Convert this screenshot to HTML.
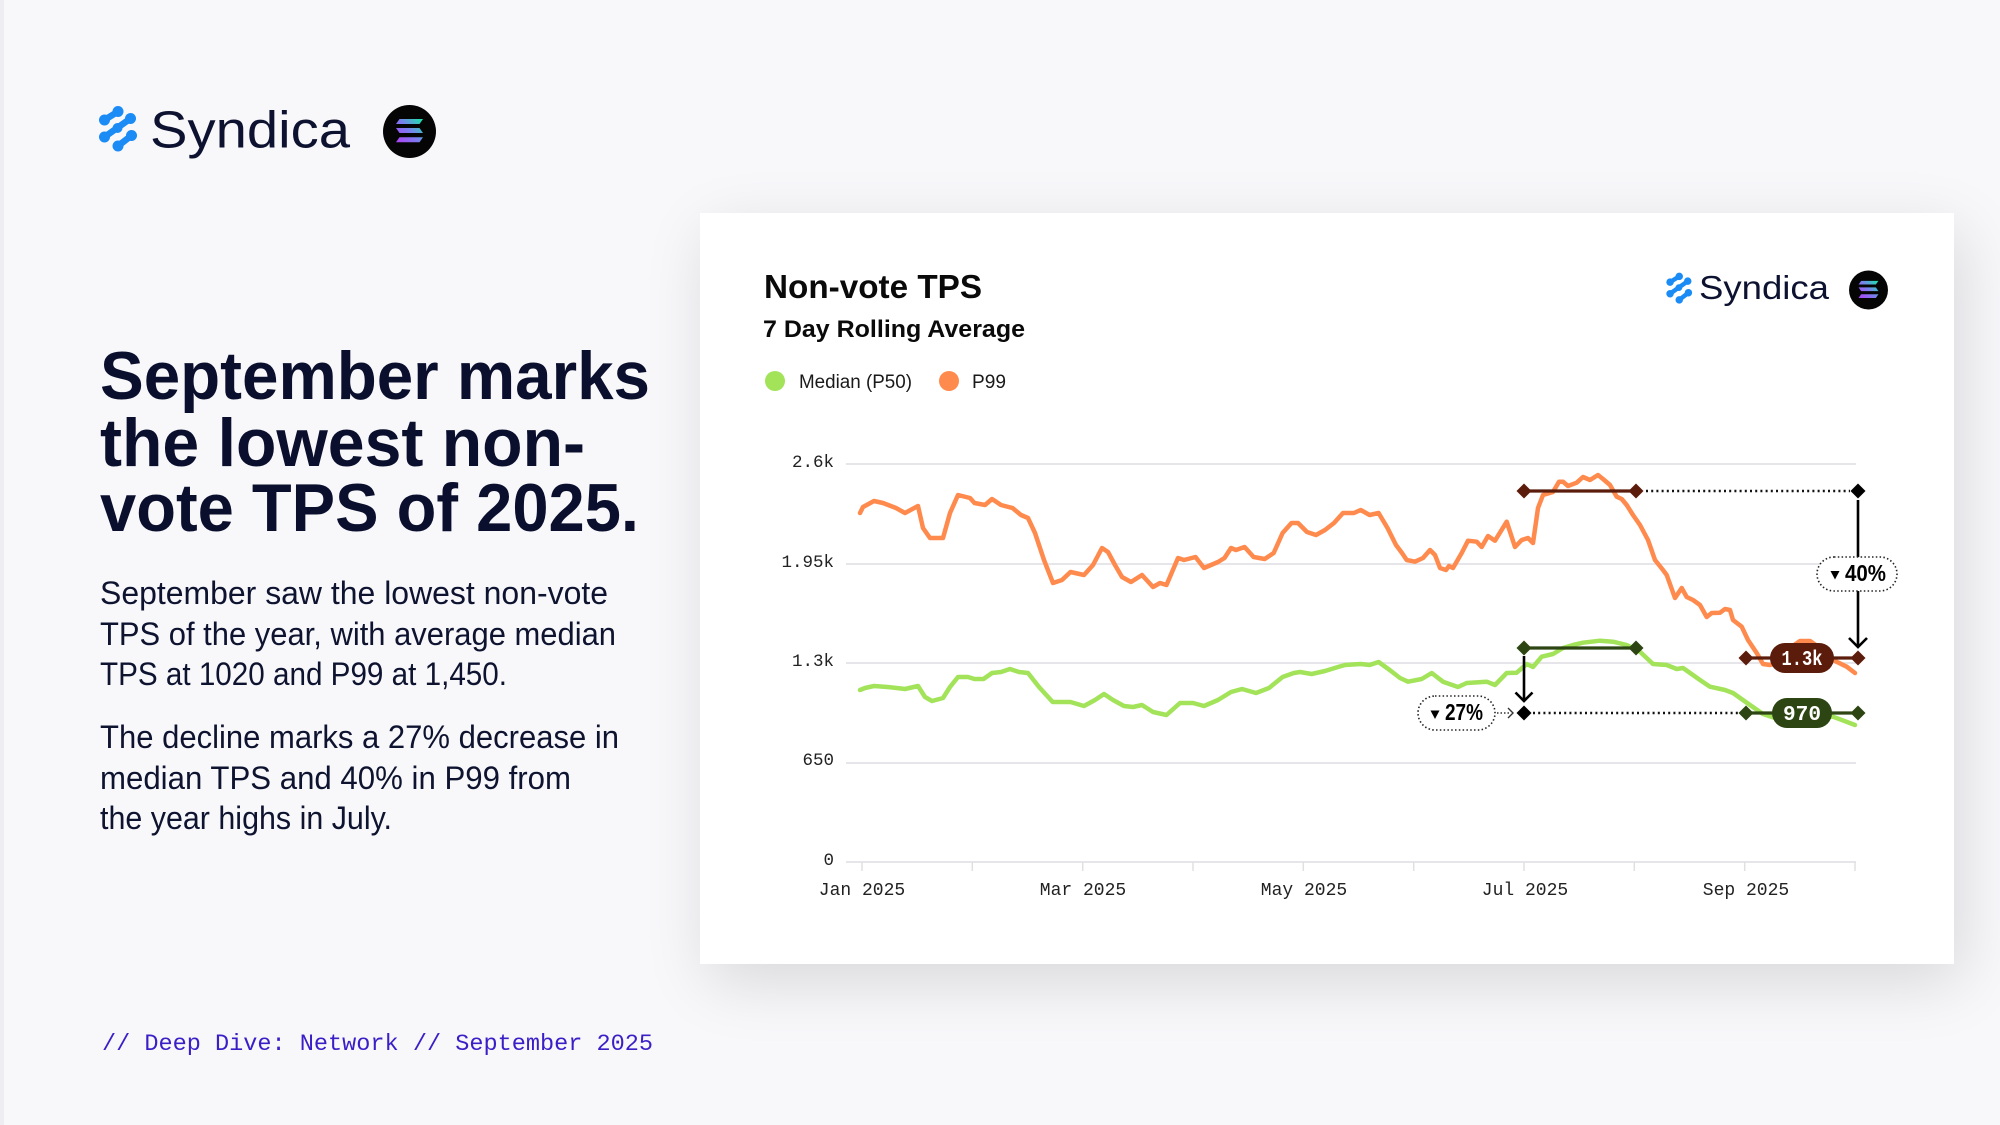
<!DOCTYPE html>
<html>
<head>
<meta charset="utf-8">
<style>
html,body{margin:0;padding:0;width:2000px;height:1125px;overflow:hidden;background:#f8f8fb}
.strip{position:absolute;left:0;top:0;width:4px;height:1125px;background:#eeeef2}
.card{position:absolute;left:700px;top:213px;width:1254px;height:751px;background:#fff;box-shadow:8px 18px 60px rgba(0,0,0,0.13)}
svg{position:absolute;left:0;top:0}
</style>
</head>
<body>
<div class="strip"></div>
<div class="card"></div>
<svg width="2000" height="1125" viewBox="0 0 2000 1125" xmlns="http://www.w3.org/2000/svg">
<defs>
  <linearGradient id="sol" gradientUnits="userSpaceOnUse" x1="-13" y1="12" x2="13" y2="-12">
    <stop offset="0" stop-color="#b23ff5"/>
    <stop offset="0.5" stop-color="#7c7cf0"/>
    <stop offset="1" stop-color="#19e6a8"/>
  </linearGradient>
  <g id="synicon" fill="#1b8bf5">
    <g stroke="#1b8bf5" stroke-width="6.5" stroke-linecap="round" fill="none">
      <line x1="104.5" y1="120" x2="118" y2="111.5"/>
      <line x1="130.5" y1="118.5" x2="104.5" y2="137"/>
      <line x1="131.5" y1="135.5" x2="118" y2="146"/>
    </g>
    <circle cx="104.5" cy="120" r="5.5"/>
    <circle cx="118" cy="111.5" r="5.5"/>
    <circle cx="130.5" cy="118.5" r="5.5"/>
    <circle cx="117.5" cy="128" r="5"/>
    <circle cx="104.5" cy="137" r="5.5"/>
    <circle cx="131.5" cy="135.5" r="5.5"/>
    <circle cx="118" cy="146" r="5.5"/>
  </g>
  <g id="solana">
    <circle cx="0" cy="0" r="26.5" fill="#050505"/>
    <polygon points="-10,-12.5 13.5,-12.5 10,-7.5 -13.5,-7.5" fill="url(#sol)"/>
    <polygon points="-13.5,-3.5 10,-3.5 13.5,1.5 -10,1.5" fill="url(#sol)"/>
    <polygon points="-10,5.8 13.5,5.8 10,10.8 -13.5,10.8" fill="url(#sol)"/>
  </g>
</defs>

<!-- Top-left logo -->
<use href="#synicon"/>
<text x="150" y="147.5" font-family="'Liberation Sans', sans-serif" font-size="52" fill="#0d1230" textLength="200" lengthAdjust="spacingAndGlyphs">Syndica</text>
<use href="#solana" transform="translate(409.5,131.5)"/>

<!-- Headline -->
<g font-family="'Liberation Sans', sans-serif" font-weight="bold" font-size="68" fill="#0b0f2e">
  <text x="100" y="399" textLength="550" lengthAdjust="spacingAndGlyphs">September marks</text>
  <text x="100" y="466" textLength="485" lengthAdjust="spacingAndGlyphs">the lowest non-</text>
  <text x="100" y="531" textLength="539" lengthAdjust="spacingAndGlyphs">vote TPS of 2025.</text>
</g>

<!-- Body -->
<g font-family="'Liberation Sans', sans-serif" font-size="32" fill="#0e1330">
  <text x="100" y="604" textLength="508" lengthAdjust="spacingAndGlyphs">September saw the lowest non-vote</text>
  <text x="100" y="645" textLength="516" lengthAdjust="spacingAndGlyphs">TPS of the year, with average median</text>
  <text x="100" y="685" textLength="407" lengthAdjust="spacingAndGlyphs">TPS at 1020 and P99 at 1,450.</text>
  <text x="100" y="748" textLength="519" lengthAdjust="spacingAndGlyphs">The decline marks a 27% decrease in</text>
  <text x="100" y="789" textLength="471" lengthAdjust="spacingAndGlyphs">median TPS and 40% in P99 from</text>
  <text x="100" y="829" textLength="292" lengthAdjust="spacingAndGlyphs">the year highs in July.</text>
</g>

<!-- Footer -->
<text x="102" y="1050" font-family="'Liberation Mono', monospace" font-size="23.5" fill="#3a1fc7" textLength="551" lengthAdjust="spacingAndGlyphs">// Deep Dive: Network // September 2025</text>

<!-- Chart header -->
<text x="764" y="298" font-family="'Liberation Sans', sans-serif" font-weight="bold" font-size="33" fill="#0a0a0a" textLength="218" lengthAdjust="spacingAndGlyphs">Non-vote TPS</text>
<text x="763" y="337" font-family="'Liberation Sans', sans-serif" font-weight="bold" font-size="24.5" fill="#0a0a0a" textLength="262" lengthAdjust="spacingAndGlyphs">7 Day Rolling Average</text>

<!-- Legend -->
<circle cx="775" cy="381" r="10" fill="#a3e35a"/>
<text x="799" y="388" font-family="'Liberation Sans', sans-serif" font-size="19" fill="#1a1a1a" textLength="113" lengthAdjust="spacingAndGlyphs">Median (P50)</text>
<circle cx="949" cy="381" r="10" fill="#ff8a4d"/>
<text x="972" y="388" font-family="'Liberation Sans', sans-serif" font-size="19" fill="#1a1a1a" textLength="34" lengthAdjust="spacingAndGlyphs">P99</text>

<!-- Card logo -->
<g transform="translate(1667,274) scale(0.68) translate(-100,-108)"><use href="#synicon"/></g>
<text x="1699" y="299" font-family="'Liberation Sans', sans-serif" font-size="33" fill="#0d1230" textLength="130" lengthAdjust="spacingAndGlyphs">Syndica</text>
<use href="#solana" transform="translate(1868.5,290) scale(0.735)"/>

<!-- Grid -->
<g stroke="#e6e6ea" stroke-width="2">
  <line x1="846" y1="464" x2="1856" y2="464"/>
  <line x1="846" y1="564" x2="1856" y2="564"/>
  <line x1="846" y1="663" x2="1856" y2="663"/>
  <line x1="846" y1="763" x2="1856" y2="763"/>
  <line x1="846" y1="862" x2="1856" y2="862"/>
</g>
<g stroke="#e0e0e4" stroke-width="1.5">
  <line x1="862" y1="862" x2="862" y2="871"/>
  <line x1="972.3" y1="862" x2="972.3" y2="871"/>
  <line x1="1082.7" y1="862" x2="1082.7" y2="871"/>
  <line x1="1193" y1="862" x2="1193" y2="871"/>
  <line x1="1303.3" y1="862" x2="1303.3" y2="871"/>
  <line x1="1413.7" y1="862" x2="1413.7" y2="871"/>
  <line x1="1524" y1="862" x2="1524" y2="871"/>
  <line x1="1634.3" y1="862" x2="1634.3" y2="871"/>
  <line x1="1744.7" y1="862" x2="1744.7" y2="871"/>
  <line x1="1855" y1="862" x2="1855" y2="871"/>
</g>

<!-- Y labels -->
<g font-family="'Liberation Mono', monospace" font-size="17.5" fill="#222" text-anchor="end">
  <text x="834" y="467">2.6k</text>
  <text x="834" y="567">1.95k</text>
  <text x="834" y="666">1.3k</text>
  <text x="834" y="765">650</text>
  <text x="834" y="865">0</text>
</g>
<!-- X labels -->
<g font-family="'Liberation Mono', monospace" font-size="18" fill="#222" text-anchor="middle">
  <text x="862" y="895">Jan 2025</text>
  <text x="1083" y="895">Mar 2025</text>
  <text x="1304" y="895">May 2025</text>
  <text x="1525" y="895">Jul 2025</text>
  <text x="1746" y="895">Sep 2025</text>
</g>

<!-- Series -->
<polyline fill="none" stroke="#a3e35a" stroke-width="4.5" stroke-linejoin="round" stroke-linecap="round" points="860,690 865,688 874,686 887.5,687 905,689 918,686 925,697 932,701 943,698 950,687 958,677 968,677 974.5,679 983.5,679 992,673 1001,672 1010,669 1019,672 1028,673 1039,687 1052.7,702 1070.5,702 1084,706 1095,700 1104,694 1113,700 1124,706 1133,707 1142,705 1153,712 1166.5,715 1180,703 1193,703 1204,706 1218,700 1231,692 1242,689 1256,693 1269,688 1282.6,677 1293.8,673 1300,672 1311.6,674 1325,671 1338,667 1345,665 1360.7,664 1369.6,665 1378.6,662 1389.7,670 1400,678 1408,681.7 1421.7,679 1431.7,673 1443,681.7 1458,687 1466.7,683 1486.7,681.7 1495,685 1506.7,673 1516.7,672.7 1526.7,664 1533,667 1541.7,656.7 1553,654 1563,648 1573,645 1583,642.7 1600,640.7 1613,641.7 1626.7,645 1640,651.7 1653,664 1666.7,665 1676.7,669 1683,668 1700,680 1710,686.7 1725,690 1733,693 1750,705 1763,714 1775,718 1800,717 1820,716 1833,716.7 1855,725"/>
<polyline fill="none" stroke="#ff8a4d" stroke-width="4.5" stroke-linejoin="round" stroke-linecap="round" points="860,513 863,507 874,501 883,503 896,508 905,513 918,506 923,528 930,538 943,538 950,513 958,495 970,498 974.5,503 985,505 992,499 1001,505 1012.5,508 1021,515 1028,518 1035,533 1044,560 1053,583 1062,580 1070.5,572 1084,575 1093,565 1102,548 1108,552 1115,565 1122,577 1131,582 1142,575 1153,587 1160,583 1166.5,585 1178,558 1184,560 1195.5,557 1204,568 1218,562 1224.5,558 1231,548 1236,550 1244.6,547 1253.6,557 1264.7,559 1273.7,553 1282.6,533 1291.5,523 1298,523 1307,532 1316,535 1325,530 1334,523 1343,513 1354,513 1360.7,510 1369.6,515 1378.6,513 1387.5,528 1396,545 1402,553 1406.7,560 1415,561.7 1423,558 1430,550 1435,555 1440,568 1446,570 1449,566 1453,568 1461.7,553 1468,540.7 1476.7,541.7 1481.7,547 1488,536 1495,540.7 1506.7,521.7 1515,547 1521.7,540 1528,538 1533,543 1538,508 1543,495 1553,492 1559,481.7 1563,481.7 1568,486 1576.7,482.7 1583,477 1590,480 1598,475 1603,479 1610,485 1616.7,496.7 1621.7,499 1626.7,505 1633,515 1640,525 1648,540 1655,560 1663,570 1666.7,575 1675,598 1681.7,588 1686.7,597 1693,600 1700,605 1706.7,617 1711.7,613 1720,612.7 1725,609 1730,610 1733,620 1741.7,626.7 1748,640 1756.7,653 1763,664 1770,665 1780,662 1790,648 1800,641 1810,641 1820,648 1833,660 1846.7,666.7 1855,673"/>

<!-- P99 annotation -->
<line x1="1524" y1="491" x2="1636" y2="491" stroke="#5b1c0b" stroke-width="3.2"/>
<polygon points="1524,483.5 1531.5,491 1524,498.5 1516.5,491" fill="#5b1c0b"/>
<polygon points="1636,483.5 1643.5,491 1636,498.5 1628.5,491" fill="#5b1c0b"/>
<line x1="1646" y1="491" x2="1850" y2="491" stroke="#111" stroke-width="2.4" stroke-dasharray="2 3.2"/>
<polygon points="1858,483.5 1865.5,491 1858,498.5 1850.5,491" fill="#000"/>
<line x1="1858" y1="500" x2="1858" y2="557" stroke="#000" stroke-width="2.6"/>
<line x1="1858" y1="591" x2="1858" y2="647" stroke="#000" stroke-width="2.6"/>
<polyline points="1849,638 1858,647 1867,638" fill="none" stroke="#000" stroke-width="2.6"/>
<rect x="1817" y="557" width="80" height="34" rx="17" fill="#fff" stroke="#222" stroke-width="1.6" stroke-dasharray="1.5 2.3"/>
<polygon points="1830.5,571 1839.5,571 1835,579.5" fill="#000"/>
<text x="1845" y="581" font-family="'Liberation Sans', sans-serif" font-weight="bold" font-size="23" fill="#000" textLength="41" lengthAdjust="spacingAndGlyphs">40%</text>

<!-- 1.3k row -->
<line x1="1746" y1="658" x2="1858" y2="658" stroke="#5b1c0b" stroke-width="3.2"/>
<polygon points="1746,650.5 1753.5,658 1746,665.5 1738.5,658" fill="#5b1c0b"/>
<polygon points="1858,650.5 1865.5,658 1858,665.5 1850.5,658" fill="#5b1c0b"/>
<rect x="1770" y="643" width="64" height="30" rx="15" fill="#5b1c0b"/>
<text x="1802" y="665" text-anchor="middle" font-family="'Liberation Mono', monospace" font-weight="bold" font-size="21" fill="#fff" textLength="41" lengthAdjust="spacingAndGlyphs">1.3k</text>

<!-- Median annotation -->
<line x1="1524" y1="648" x2="1636" y2="648" stroke="#2c4512" stroke-width="3.2"/>
<polygon points="1524,640.5 1531.5,648 1524,655.5 1516.5,648" fill="#2c4512"/>
<polygon points="1636,640.5 1643.5,648 1636,655.5 1628.5,648" fill="#2c4512"/>
<line x1="1524" y1="656" x2="1524" y2="701" stroke="#000" stroke-width="2.6"/>
<polyline points="1515.5,692.5 1524,701 1532.5,692.5" fill="none" stroke="#000" stroke-width="2.6"/>
<polygon points="1524,705.5 1531.5,713 1524,720.5 1516.5,713" fill="#000"/>
<line x1="1533" y1="713" x2="1738" y2="713" stroke="#111" stroke-width="2.4" stroke-dasharray="2 3.2"/>
<line x1="1497" y1="713" x2="1510" y2="713" stroke="#333" stroke-width="1.4" stroke-dasharray="1.5 2"/>
<polyline points="1508,708 1513,713 1508,718" fill="none" stroke="#333" stroke-width="1.4"/>
<rect x="1418" y="696" width="77" height="34" rx="17" fill="#fff" stroke="#222" stroke-width="1.6" stroke-dasharray="1.5 2.3"/>
<polygon points="1430.5,710.5 1439.5,710.5 1435,719" fill="#000"/>
<text x="1445" y="720" font-family="'Liberation Sans', sans-serif" font-weight="bold" font-size="23" fill="#000" textLength="38" lengthAdjust="spacingAndGlyphs">27%</text>

<!-- 970 row -->
<line x1="1746" y1="713" x2="1858" y2="713" stroke="#2c4512" stroke-width="3.2"/>
<polygon points="1746,705.5 1753.5,713 1746,720.5 1738.5,713" fill="#2c4512"/>
<polygon points="1858,705.5 1865.5,713 1858,720.5 1850.5,713" fill="#2c4512"/>
<rect x="1772" y="698" width="60" height="30" rx="15" fill="#2c4512"/>
<text x="1802" y="720" text-anchor="middle" font-family="'Liberation Mono', monospace" font-weight="bold" font-size="21" fill="#fff" textLength="38" lengthAdjust="spacingAndGlyphs">970</text>
</svg>
</body>
</html>
